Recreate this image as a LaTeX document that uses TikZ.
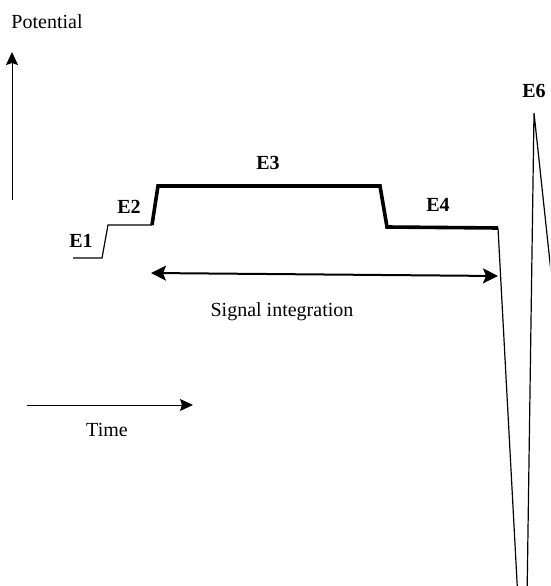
\documentclass[tikz,border=0pt]{standalone}
\usepackage{fontspec}
\setmainfont{Liberation Serif}
\usetikzlibrary{arrows.meta}
\begin{document}
\begin{tikzpicture}[x=1pt,y=-1pt,
  thinline/.style={line width=1.2pt},
  thickline/.style={line width=3.6pt,line cap=butt,line join=miter},
  label/.style={font=\fontsize{20}{23}\selectfont\bfseries,inner sep=0pt},
  caption/.style={font=\fontsize{20}{23}\selectfont,inner sep=0pt},
  axisarrow/.style={line width=1pt,-{Stealth[length=13pt,width=12pt,inset=2pt]}},
  spanarrow/.style={line width=2pt,{Stealth[length=15pt,width=15pt,inset=3pt]}-{Stealth[length=15pt,width=15pt,inset=3pt]}}]
  \useasboundingbox (0,0) rectangle (550,586);
  \clip (0,0) rectangle (550,586);

  % axes
  \node[caption] (pot) at (47,22) {Potential};
  \coordinate (vbot) at (12,200);
  \coordinate (vtop) at (12,52);
  \draw[axisarrow] (vbot) -- (vtop);
  \coordinate (tl) at (27,405);
  \coordinate (tr) at (193,405);
  \draw[axisarrow] (tl) -- (tr);
  \node[caption] (time) at (107,430) {Time};

  % potential trace
  \coordinate (p1) at (73,258);
  \coordinate (p2) at (102,258);
  \coordinate (p3) at (108,225);
  \coordinate (p4) at (152,225);
  \coordinate (p5) at (158,186);
  \coordinate (p6) at (380,186);
  \coordinate (p7) at (387,227);
  \coordinate (p8) at (498,228);
  \coordinate (p9) at (518,600);
  \coordinate (p10) at (527,600);
  \coordinate (p11) at (534,113);
  \coordinate (p12) at (554,300);
  \draw[thinline] (p1) -- (p2) -- (p3) -- (p4);
  \draw[thickline] (p4) -- (p5) -- (p6) -- (p7) -- (p8);
  \draw[thinline] (p8) -- (p9);
  \draw[thinline] (p10) -- (p11) -- (p12);

  % step labels
  \node[label] (e1) at (81,241) {E1};
  \node[label] (e2) at (129,207) {E2};
  \node[label] (e3) at (268,163) {E3};
  \node[label] (e4) at (438,205) {E4};
  \node[label] (e6) at (534,91) {E6};

  % integration window
  \coordinate (sl) at (151,273);
  \coordinate (sr) at (498,276);
  \draw[spanarrow] (sl) -- (sr);
  \node[caption] (sig) at (282,312) {Signal integration};
\end{tikzpicture}
\end{document}
